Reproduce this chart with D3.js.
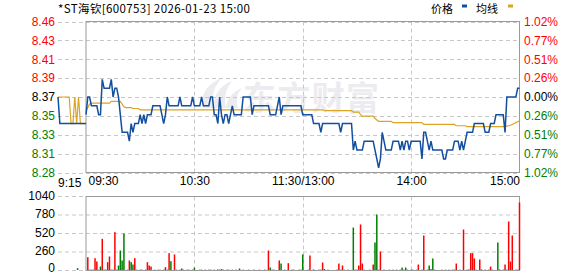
<!DOCTYPE html>
<html><head><meta charset="utf-8">
<script src="https://cdn.jsdelivr.net/npm/d3@7"></script>
<style>
html,body{margin:0;padding:0;background:#fff;}
svg{display:block;font-family:"Liberation Sans",Arial,sans-serif;}
</style>
</head><body>
<svg id="c" width="578" height="276"></svg>
<script>
// ---------------- data ----------------
const titleText = "*ST海钦[600753] 2026-01-23 15:00";
const legendNames = ["价格", "均线"];
const prevClose = 8.37;
const pctTickValues = [1.02, 0.765, 0.51, 0.255, 0, -0.255, -0.51, -0.765, -1.02];
const priceTickLabels = ["8.46","8.43","8.41","8.39","8.37","8.35","8.33","8.31","8.28"];
const pctTickLabels = ["1.02%","0.77%","0.51%","0.26%","0.00%","0.26%","0.51%","0.77%","1.02%"];
const volTickValues = [1040, 780, 520, 260, 0];
const volTickLabels = ["1040","780","520","260","0"];
const timeTickMinutes = [0, 60, 120, 180, 240];
const timeTickLabels = ["09:30","10:30","11:30/13:00","14:00","15:00"];
const preTickLabel = "9:15";

// pre-market (9:15 - 9:30), minutes after 9:15
const preMinutes = [0,1,2,3,4,5,6,7,8,9,10,11,12,13,14,15];
const prePrice   = [8.37,8.34,8.34,8.34,8.34,8.34,8.34,8.34,8.34,8.34,8.34,8.34,8.34,8.34,8.34,8.34];
const preAvg     = [8.37,8.37,8.37,8.37,8.37,8.37,8.37,8.34,8.34,8.37,8.34,8.37,8.34,8.34,8.34,8.34];
const preVolMinutes = [10.5];
const preVolumes    = [-33];

// minute prices, 09:30 .. 11:30 / 13:00 .. 15:00 (241 points)
const price = [
8.35,8.37,8.37,8.36,8.36,8.36,8.36,8.35,8.35,8.39,
8.38,8.38,8.38,8.38,8.39,8.37,8.38,8.38,8.37,8.35,
8.33,8.33,8.33,8.33,8.32,8.34,8.33,8.34,8.34,8.34,
8.35,8.34,8.35,8.34,8.35,8.35,8.35,8.36,8.36,8.36,
8.36,8.36,8.35,8.34,8.35,8.37,8.36,8.36,8.36,8.36,
8.36,8.36,8.37,8.36,8.36,8.36,8.36,8.36,8.36,8.37,
8.36,8.36,8.36,8.36,8.37,8.36,8.36,8.36,8.36,8.37,
8.37,8.35,8.35,8.34,8.37,8.35,8.34,8.35,8.35,8.34,
8.35,8.36,8.35,8.35,8.35,8.35,8.35,8.37,8.37,8.37,
8.37,8.37,8.35,8.36,8.36,8.36,8.36,8.36,8.36,8.36,
8.36,8.36,8.35,8.35,8.35,8.35,8.36,8.37,8.35,8.36,
8.36,8.36,8.36,8.36,8.36,8.36,8.36,8.36,8.36,8.36,
8.35,8.35,8.35,8.35,8.35,8.35,8.34,8.34,8.34,8.34,
8.33,8.34,8.34,8.34,8.34,8.34,8.34,8.34,8.34,8.34,
8.34,8.33,8.34,8.34,8.34,8.34,8.34,8.34,8.31,8.32,
8.31,8.31,8.31,8.31,8.32,8.32,8.32,8.32,8.32,8.32,
8.31,8.30,8.29,8.30,8.33,8.32,8.31,8.31,8.31,8.31,
8.32,8.32,8.32,8.32,8.31,8.32,8.31,8.32,8.32,8.31,
8.32,8.32,8.32,8.32,8.32,8.32,8.30,8.33,8.33,8.32,
8.31,8.32,8.31,8.31,8.31,8.31,8.31,8.31,8.30,8.30,
8.31,8.31,8.31,8.31,8.32,8.32,8.32,8.31,8.32,8.31,
8.32,8.33,8.33,8.33,8.33,8.34,8.34,8.34,8.34,8.34,
8.34,8.33,8.33,8.33,8.34,8.34,8.34,8.35,8.35,8.35,
8.35,8.35,8.33,8.37,8.37,8.37,8.37,8.37,8.37,8.38,
8.38
];

// average price line (241 points)
const avgPrice = [
8.354,8.358,8.362,8.363,8.363,8.363,8.363,8.363,8.363,8.363,
8.363,8.363,8.363,8.363,8.365,8.365,8.365,8.365,8.365,8.365,
8.362,8.359,8.358,8.358,8.358,8.358,8.357,8.357,8.357,8.357,
8.3555,8.3555,8.3555,8.3555,8.3555,8.3555,8.3555,8.3555,8.3555,8.3555,
8.3555,8.3555,8.3555,8.3555,8.3555,8.3555,8.3555,8.3555,8.3555,8.3555,
8.3555,8.3555,8.3555,8.3555,8.3555,8.3555,8.3555,8.3555,8.3555,8.3555,
8.3555,8.3555,8.3555,8.3555,8.3555,8.3555,8.3555,8.3555,8.3555,8.3555,
8.3555,8.3555,8.3555,8.3555,8.3555,8.3555,8.3555,8.3555,8.3555,8.3555,
8.3555,8.3555,8.3555,8.3555,8.3555,8.3555,8.3555,8.3555,8.3555,8.3555,
8.3555,8.3555,8.3555,8.3555,8.3555,8.3555,8.3555,8.3555,8.3555,8.3555,
8.3555,8.3555,8.3555,8.3555,8.3555,8.3555,8.3555,8.3555,8.3555,8.3555,
8.3555,8.3555,8.3555,8.3555,8.3555,8.3555,8.3555,8.3555,8.3555,8.3555,
8.3555,8.3555,8.3555,8.3555,8.3555,8.3555,8.3555,8.3555,8.3555,8.3555,
8.3555,8.3555,8.3545,8.3545,8.3545,8.3545,8.3545,8.3545,8.3545,8.3545,
8.3545,8.3545,8.3545,8.3545,8.3545,8.3545,8.3545,8.3545,8.353,8.353,
8.353,8.353,8.350,8.3483,8.3483,8.3483,8.3483,8.3483,8.3483,8.3483,
8.346,8.344,8.3425,8.3425,8.3425,8.3425,8.3425,8.3425,8.3425,8.3425,
8.341,8.341,8.341,8.341,8.341,8.341,8.341,8.341,8.341,8.341,
8.341,8.341,8.341,8.341,8.341,8.341,8.341,8.339,8.339,8.339,
8.339,8.339,8.339,8.339,8.339,8.339,8.339,8.339,8.339,8.339,
8.339,8.339,8.339,8.339,8.339,8.3375,8.3375,8.3375,8.3375,8.3375,
8.3375,8.3365,8.3365,8.3365,8.3365,8.3365,8.3365,8.3365,8.3365,8.3365,
8.3365,8.3365,8.3365,8.3365,8.3365,8.3365,8.3365,8.3365,8.3365,8.3365,
8.3365,8.3365,8.3365,8.337,8.3375,8.338,8.339,8.340,8.341,8.342,
8.343
];

// minute volume in lots; negative = down-tick minute (green), positive = up-tick (red)
const volume = [
0,187,12,-12,12,173,127,12,-56,445,
12,-12,117,197,12,-12,539,12,-70,-281,
-141,-520,0,12,141,-117,-84,173,12,0,
12,12,0,12,117,70,56,0,12,0,
12,12,0,12,47,12,244,-131,0,225,
12,0,12,-28,12,0,12,12,0,12,
-42,0,0,12,12,0,12,0,12,12,
0,-12,0,-15,12,-20,-12,0,12,-12,
0,12,0,12,0,28,0,12,0,0,
12,0,0,12,0,0,12,0,0,12,
0,281,-42,12,12,0,0,141,-98,0,
12,0,103,0,12,12,0,0,12,12,
-225,0,0,12,211,0,-15,0,0,12,
-12,112,20,0,12,0,0,0,0,12,
98,-12,70,12,0,12,0,0,-604,12,
-12,70,647,98,12,0,0,12,0,84,
-394,-787,12,267,0,12,0,0,12,0,
12,0,12,0,12,-42,12,-42,12,0,
12,12,0,12,84,0,12,492,0,12,
-70,20,-169,12,0,0,0,12,0,12,
0,12,0,12,12,98,0,12,0,576,
0,12,15,244,244,169,12,0,155,15,
0,12,0,12,56,12,0,0,-394,15,
0,12,84,12,689,127,492,0,12,12,
956
];

// ---------------- drawing ----------------
const svg = d3.select("#c");
const C = {
  blue: "#124f9e", gold: "#dca324", red: "#ff0000", green: "#008000",
  grid: "#c8c8c8", frame: "#9a9a9a", text: "#000"
};
const L = 58, F = 86, R = 519.5;          // left grid start, frame left, frame right
const PT = 21.5, PB = 172.5;               // price panel
const VT = 196.5, VB = 270.5;              // volume panel

const x = d3.scaleLinear().domain([0, 240]).range([F, R]);
const xPre = d3.scaleLinear().domain([0, 15]).range([L, F]);
const y = d3.scaleLinear().domain([prevClose * (1 - 0.0102), prevClose * (1 + 0.0102)]).range([PB, PT]);
const yv = d3.scaleLinear().domain([0, 1040]).range([VB, VT]);
const pctY = p => y(prevClose * (1 + p / 100));
const tickColor = p => p > 0 ? C.red : (p < 0 ? C.green : C.text);

// watermark
const wm = svg.append("g").attr("fill", "#ececf0");
wm.append("path").attr("d", "M203,108 C200,96 206,84 222,78 C214,86 211,96 214,108 Z");
wm.append("path").attr("d", "M214,108 C213,96 219,86 232,81 C225,90 224,99 226,108 Z");
wm.append("path").attr("d", "M226,108 C227,99 232,92 242,88 C236,95 236,101 238,108 Z");
wm.append("text").attr("x", 243).attr("y", 110).attr("font-family", "Noto Sans CJK SC")
  .attr("font-weight", "bold").attr("font-size", 33).attr("textLength", 136)
  .attr("lengthAdjust", "spacing").text("东方财富");

// gridlines price panel
const gp = svg.append("g").attr("stroke", C.grid).attr("stroke-dasharray", "4,3").attr("fill", "none");
gp.selectAll("line.h").data(pctTickValues).join("line").attr("class", "h")
  .attr("x1", L).attr("x2", R).attr("y1", d => Math.round(pctY(d)) + 0.5).attr("y2", d => Math.round(pctY(d)) + 0.5);
gp.selectAll("line.v").data(timeTickMinutes.slice(1, 4)).join("line").attr("class", "v")
  .attr("x1", d => Math.round(x(d)) + 0.5).attr("x2", d => Math.round(x(d)) + 0.5).attr("y1", PT).attr("y2", PB);

// gridlines volume panel
const gv = svg.append("g").attr("stroke", C.grid).attr("stroke-dasharray", "4,3").attr("fill", "none");
gv.selectAll("line.h").data(volTickValues).join("line").attr("class", "h")
  .attr("x1", L).attr("x2", R).attr("y1", d => yv(d)).attr("y2", d => yv(d));
gv.selectAll("line.v").data(timeTickMinutes.slice(1, 4)).join("line").attr("class", "v")
  .attr("x1", d => Math.round(x(d)) + 0.5).attr("x2", d => Math.round(x(d)) + 0.5).attr("y1", VT).attr("y2", VB);

// frames
svg.append("rect").attr("x", F).attr("y", PT).attr("width", R - F).attr("height", PB - PT)
  .attr("fill", "none").attr("stroke", C.frame);
svg.append("rect").attr("x", F).attr("y", VT).attr("width", R - F).attr("height", VB - VT)
  .attr("fill", "none").attr("stroke", C.frame);

// volume bars
svg.append("g").selectAll("rect").data(volume).join("rect")
  .attr("x", (d, i) => x(i) - 0.75).attr("width", 1.5)
  .attr("y", d => yv(Math.abs(d))).attr("height", d => VB - 0.5 - yv(Math.abs(d)))
  .attr("fill", d => d < 0 ? C.green : C.red);
svg.append("g").selectAll("rect").data(preVolumes).join("rect")
  .attr("x", (d, i) => xPre(preVolMinutes[i]) - 0.75).attr("width", 1.5)
  .attr("y", d => yv(Math.abs(d))).attr("height", d => VB - 0.5 - yv(Math.abs(d)))
  .attr("fill", d => d < 0 ? C.green : C.red);

// lines
const lineMain = d3.line().x((d, i) => x(i)).y(d => y(d));
const linePre = d3.line().x((d, i) => xPre(preMinutes[i])).y(d => y(d));
svg.append("path").datum(preAvg).attr("d", linePre).attr("fill", "none").attr("stroke", C.gold).attr("stroke-width", 1.2);
svg.append("path").datum(prePrice).attr("d", linePre).attr("fill", "none").attr("stroke", C.blue).attr("stroke-width", 1.5);
svg.append("path").datum(avgPrice).attr("d", lineMain).attr("fill", "none").attr("stroke", C.gold).attr("stroke-width", 1.2);
svg.append("path").datum(price).attr("d", lineMain).attr("fill", "none").attr("stroke", C.blue).attr("stroke-width", 1.5);

// axes
const axL = d3.axisLeft(y).tickValues(pctTickValues.map(p => prevClose * (1 + p / 100)))
  .tickSize(0).tickPadding(0).tickFormat((d, i) => priceTickLabels[i]);
const gL = svg.append("g").attr("transform", `translate(${55},0)`).call(axL);
gL.select(".domain").remove();
gL.selectAll("text").attr("font-size", 12).attr("font-family", "Liberation Sans, Arial")
  .attr("fill", (d, i) => tickColor(pctTickValues[i]));

const axR = d3.axisRight(y).tickValues(pctTickValues.map(p => prevClose * (1 + p / 100)))
  .tickSize(0).tickPadding(0).tickFormat((d, i) => pctTickLabels[i]);
const gR = svg.append("g").attr("transform", `translate(${524},0)`).call(axR);
gR.select(".domain").remove();
gR.selectAll("text").attr("font-size", 12).attr("font-family", "Liberation Sans, Arial")
  .attr("fill", (d, i) => tickColor(pctTickValues[i]));

const axV = d3.axisLeft(yv).tickValues(volTickValues).tickSize(0).tickPadding(0)
  .tickFormat((d, i) => volTickLabels[i]);
const gV = svg.append("g").attr("transform", `translate(${55},-1)`).call(axV);
gV.select(".domain").remove();
gV.selectAll("text").attr("font-size", 12).attr("font-family", "Liberation Sans, Arial").attr("fill", C.text)
  .attr("dy", (d, i) => i === volTickValues.length - 1 ? "0.15em" : "0.32em");

const axB = d3.axisBottom(x).tickValues(timeTickMinutes).tickSize(0).tickPadding(0)
  .tickFormat((d, i) => timeTickLabels[i]);
const gB = svg.append("g").attr("transform", `translate(0,${176})`).call(axB);
gB.select(".domain").remove();
gB.selectAll("text").attr("font-size", 12).attr("font-family", "Liberation Sans, Arial").attr("fill", C.text)
  .attr("dx", (d, i) => i === 0 ? 2 : 0)
  .attr("text-anchor", (d, i) => i === 0 ? "start" : (i === timeTickMinutes.length - 1 ? "end" : "middle"));
svg.append("text").attr("x", xPre(0)).attr("y", 187).attr("font-size", 12)
  .attr("font-family", "Liberation Sans, Arial").text(preTickLabel);

// title & legend
svg.append("text").attr("x", 58).attr("y", 12.5).attr("font-family", "Noto Sans CJK SC")
  .attr("font-size", 11.5).attr("textLength", 192).attr("lengthAdjust", "spacing").text(titleText);
const lg = svg.append("g").attr("font-family", "Noto Sans CJK SC").attr("font-size", 11);
lg.append("text").attr("x", 431).attr("y", 12.5).text(legendNames[0]);
lg.append("rect").attr("x", 462).attr("y", 4.5).attr("width", 5).attr("height", 3).attr("fill", C.blue);
lg.append("text").attr("x", 476).attr("y", 12.5).text(legendNames[1]);
lg.append("rect").attr("x", 508).attr("y", 4.5).attr("width", 5).attr("height", 3).attr("fill", C.gold);
</script>
</body></html>
